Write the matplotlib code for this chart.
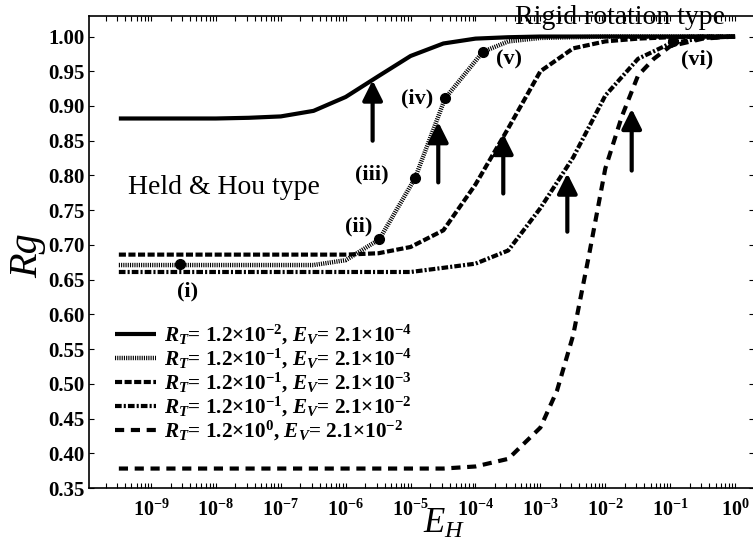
import matplotlib
matplotlib.use("Agg")
import matplotlib.pyplot as plt
from matplotlib.ticker import LogLocator, NullFormatter

plt.rcParams['font.family'] = ['Liberation Serif', 'DejaVu Serif']
plt.rcParams['font.weight'] = 'bold'
plt.rcParams['mathtext.fontset'] = 'custom'
plt.rcParams['mathtext.rm'] = 'Liberation Serif:bold'
plt.rcParams['mathtext.bf'] = 'Liberation Serif:bold'
plt.rcParams['mathtext.it'] = 'Liberation Serif:italic:bold'

# E_H grid (half decades) used by most curves
eh_grid = [3.2e-10, 1e-9, 3.2e-9, 1e-8, 3.2e-8, 1e-7, 3.2e-7, 1e-6, 3.2e-6, 1e-5,
           3.2e-5, 1e-4, 3.2e-4, 1e-3, 3.2e-3, 1e-2, 3.2e-2, 1e-1, 3.2e-1, 1.0]

rg_1 = [0.882, 0.882, 0.882, 0.882, 0.883, 0.885, 0.893, 0.913, 0.943, 0.972,
        0.990, 0.997, 0.999, 1.0, 1.0, 1.0, 1.0, 1.0, 1.0, 1.0]

eh_2 = [3.2e-10, 1e-9, 3.2e-9, 1e-8, 3.2e-8, 1e-7, 3.2e-7, 1e-6, 3.3e-6, 1.17e-5,
        3.4e-5, 1.3e-4, 3.2e-4, 1e-3, 3.2e-3, 1e-2, 1e-1, 1.0]
rg_2 = [0.671, 0.671, 0.671, 0.671, 0.671, 0.671, 0.671, 0.678, 0.708, 0.796,
        0.911, 0.978, 0.993, 0.998, 0.999, 1.0, 1.0, 1.0]

rg_3 = [0.686, 0.686, 0.686, 0.686, 0.686, 0.686, 0.686, 0.686, 0.688, 0.697,
        0.721, 0.787, 0.868, 0.950, 0.983, 0.993, 0.997, 0.999, 1.0, 1.0]

rg_4 = [0.661, 0.661, 0.661, 0.661, 0.661, 0.661, 0.661, 0.661, 0.661, 0.661,
        0.667, 0.673, 0.692, 0.753, 0.826, 0.915, 0.968, 0.990, 0.998, 1.0]

eh_5 = [3.2e-10, 1e-9, 3.2e-9, 1e-8, 3.2e-8, 1e-7, 3.2e-7, 1e-6, 3.2e-6, 1e-5,
        3.2e-5, 1e-4, 3.2e-4, 1e-3, 1.8e-3, 3.2e-3, 5.6e-3, 1e-2, 1.8e-2, 3.2e-2,
        5.6e-2, 1e-1, 3.2e-1, 1.0]
rg_5 = [0.378, 0.378, 0.378, 0.378, 0.378, 0.378, 0.378, 0.378, 0.378, 0.378,
        0.378, 0.381, 0.392, 0.437, 0.490, 0.570, 0.685, 0.810, 0.885, 0.944,
        0.968, 0.986, 0.997, 1.0]

labels = [
    r"$R_T$= 1.2×10$^{-2}$, $E_V$= 2.1×10$^{-4}$",
    r"$R_T$= 1.2×10$^{-1}$, $E_V$= 2.1×10$^{-4}$",
    r"$R_T$= 1.2×10$^{-1}$, $E_V$= 2.1×10$^{-3}$",
    r"$R_T$= 1.2×10$^{-1}$, $E_V$= 2.1×10$^{-2}$",
    r"$R_T$= 1.2×10$^{0}$, $E_V$= 2.1×10$^{-2}$",
]

# marked points (i)-(vi)
pt_names = ["(i)", "(ii)", "(iii)", "(iv)", "(v)", "(vi)"]
pt_eh = [2.8e-9, 3.3e-6, 1.17e-5, 3.4e-5, 1.3e-4, 0.11]
pt_rg = [0.672, 0.708, 0.796, 0.911, 0.978, 0.993]
pt_text_eh = [3.7e-9, 1.6e-6, 2.5e-6, 1.26e-5, 3.3e-4, 0.26]
pt_text_rg = [0.633, 0.727, 0.802, 0.911, 0.967, 0.967]

# arrows (tail -> tip)
arrow_eh = [2.6e-6, 2.67e-5, 2.68e-4, 2.6e-3, 2.55e-2]
arrow_tail = [0.850, 0.790, 0.774, 0.719, 0.807]
arrow_tip = [0.937, 0.877, 0.860, 0.803, 0.896]

fig = plt.figure(figsize=(7.53, 5.41), dpi=100)
ax = fig.add_axes([89 / 753, 53 / 541, 665 / 753, 472.3 / 541])

ax.plot(eh_grid, rg_1, color='black', lw=3, solid_capstyle='butt', label=labels[0])
ax.plot(eh_2, rg_2, color='black', lw=3.2, dashes=(0.25, 0.25), dash_capstyle='butt', label=labels[1])
ax.plot(eh_grid, rg_3, color='black', lw=3, dashes=(1.7, 0.6), dash_capstyle='butt', label=labels[2])
ax.plot(eh_grid, rg_4, color='black', lw=3, dashes=(1.6, 0.5, 0.5, 0.5), dash_capstyle='butt', label=labels[3])
ax.plot(eh_5, rg_5, color='black', lw=3, dashes=(2.2, 1.6), dash_capstyle='butt', label=labels[4])

ax.plot(pt_eh, pt_rg, 'o', color='black', ms=7, zorder=5)
for name, tx, ty in zip(pt_names, pt_text_eh, pt_text_rg):
    ax.text(tx, ty, name, fontsize=16, ha='center', va='center')

for x, y0, y1 in zip(arrow_eh, arrow_tail, arrow_tip):
    ax.annotate('', xy=(x, y1), xytext=(x, y0),
                arrowprops=dict(arrowstyle='-|>,head_length=1.0,head_width=0.5',
                                mutation_scale=12, lw=3, color='black',
                                shrinkA=0, shrinkB=0))

ax.text(4.4e-10, 0.774, "Held & Hou type", fontsize=20, fontweight='normal',
        ha='left', va='baseline')
ax.text(1.68e-2, 1.0187, "Rigid rotation type", fontsize=20, fontweight='normal',
        ha='center', va='baseline', zorder=0)

ax.set_xscale('log')
ax.set_xlim(1.11e-10, 10 ** 0.291)
ax.set_ylim(0.35, 1.03)
ax.set_yticks([0.35 + 0.05 * i for i in range(14)])
ax.set_yticklabels([f"{0.35 + 0.05 * i:.2f}" for i in range(14)])
ax.set_xticks([1e-9, 1e-8, 1e-7, 1e-6, 1e-5, 1e-4, 1e-3, 1e-2, 1e-1, 1.0])
ax.xaxis.set_minor_locator(LogLocator(base=10, subs=[2, 3, 4, 5, 6, 7, 8, 9], numticks=100))
ax.xaxis.set_minor_formatter(NullFormatter())

ax.tick_params(which='both', direction='in', top=True, right=True,
               length=3.5, width=0.8)
ax.tick_params(axis='y', labelsize=15)
ax.tick_params(axis='x', which='major', pad=8, labelsize=14.5)
for s in ax.spines.values():
    s.set_linewidth(1.2)

ax.set_xlabel(r"$\mathdefault{E_H}$", fontsize=25, fontstyle='italic', fontweight='normal',
              ha='left', va='baseline')
ax.xaxis.set_label_coords(0.503, -0.0953)
ax.set_ylabel("Rg", fontsize=29, fontstyle='italic', fontweight='normal',
              va='center', ha='center')
ax.yaxis.set_label_coords(-0.092, 0.493)

ax.legend(loc='lower left', bbox_to_anchor=(0.039, 0.095), frameon=False,
          fontsize=15.3, handlelength=1.95, handletextpad=0.34,
          labelspacing=0.0, borderpad=0, borderaxespad=0)

fig.savefig('out.png', dpi=100)
